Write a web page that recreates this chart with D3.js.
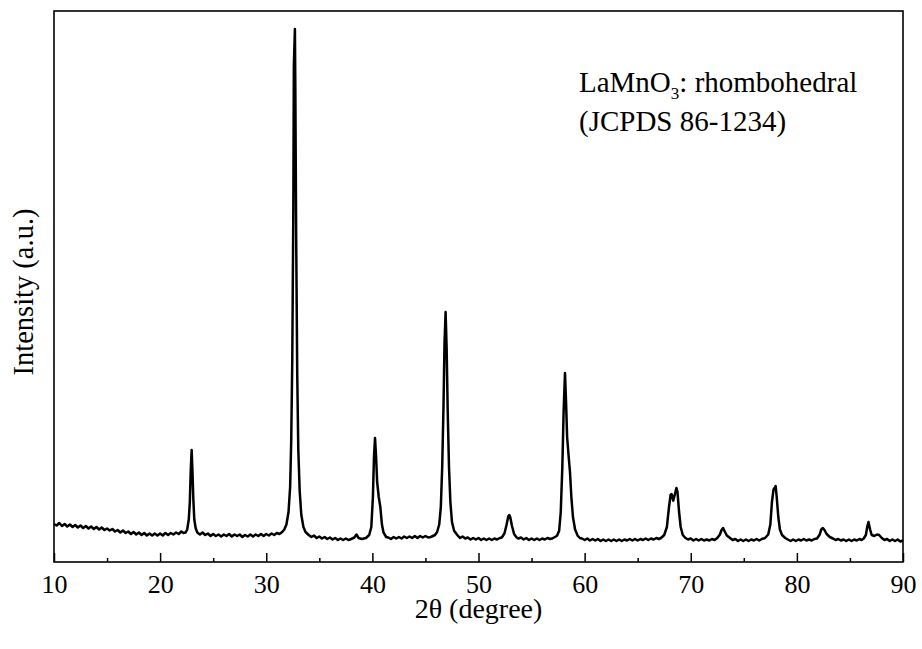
<!DOCTYPE html>
<html>
<head>
<meta charset="utf-8">
<script src="https://cdn.jsdelivr.net/npm/d3@7"></script>
<style>
  html, body { margin: 0; padding: 0; background: #fff; }
  svg { display: block; }
  text { font-family: "Liberation Serif", "Times New Roman", serif; fill: #000; }
</style>
</head>
<body>
<svg id="chart" width="922" height="649"></svg>
<script>
// ---- Data: XRD pattern, [2theta (deg), intensity (a.u.)] ----
const bg10to22 = [
  [10.0,152],[10.25,146],[10.5,156],[10.75,144],[11.0,152],[11.25,142],[11.5,150],[11.75,140],
  [12.0,148],[12.25,138],[12.5,146],[12.75,136],[13.0,144],[13.25,134],[13.5,142],[13.75,132],
  [14.0,140],[14.25,130],[14.5,138],[14.75,128],[15.0,134],[15.25,126],[15.5,132],[15.75,122],
  [16.0,128],[16.25,118],[16.5,126],[16.75,116],[17.0,122],[17.25,112],[17.5,120],[17.75,110],
  [18.0,118],[18.25,108],[18.5,116],[18.75,106],[19.0,114],[19.25,106],[19.5,114],[19.75,106],
  [20.0,114],[20.25,106],[20.5,116],[20.75,108],[21.0,116],[21.25,110],[21.5,118],[21.75,112],
  [22.0,122],[22.2,116]
];
const peak23 = [
  [22.4,118],[22.55,130],[22.7,170],[22.8,240],[22.88,360],[22.97,448],[23.05,360],[23.13,250],
  [23.22,170],[23.35,135],[23.5,118]
];
const bg23to31 = [
  [23.75,110],[24.0,118],[24.25,108],[24.5,114],[24.75,104],[25.0,112],[25.25,104],[25.5,110],
  [25.75,102],[26.0,110],[26.25,104],[26.5,112],[26.75,102],[27.0,110],[27.25,104],[27.5,110],
  [27.75,100],[28.0,108],[28.25,102],[28.5,110],[28.75,102],[29.0,110],[29.25,104],[29.5,112],
  [29.75,104],[30.0,112],[30.25,106],[30.5,114],[30.75,108],[31.0,116],[31.25,112]
];
const peak33 = [
  [31.5,120],[31.7,130],[31.9,150],[32.1,200],[32.25,300],[32.35,480],[32.45,800],[32.55,1400],
  [32.6,1980],[32.63,2030],[32.7,2132],[32.74,1900],[32.82,1300],[32.92,750],[33.02,450],
  [33.15,285],[33.3,190],[33.5,140],[33.7,120]
];
const bg34to38 = [
  [34.0,108],[34.25,100],[34.5,106],[34.75,96],[35.0,102],[35.25,94],[35.5,100],[35.75,92],
  [36.0,98],[36.25,90],[36.5,96],[36.75,88],[37.0,94],[37.25,88],[37.5,94],[37.75,88],[38.0,92]
];
const peak40 = [
  [38.3,98],[38.5,110],[38.7,96],[39.0,92],[39.4,96],[39.7,108],[39.9,140],[40.05,260],
  [40.15,420],[40.25,496],[40.35,420],[40.45,320],[40.6,260],[40.75,220],[40.9,150],
  [41.05,118],[41.3,100]
];
const bg41to45 = [
  [41.5,98],[41.75,92],[42.0,100],[42.25,94],[42.5,100],[42.75,94],[43.0,102],[43.25,96],
  [43.5,102],[43.75,96],[44.0,104],[44.25,96],[44.5,104],[44.75,98],[45.0,104],[45.25,98]
];
const peak47 = [
  [45.5,100],[45.9,108],[46.1,120],[46.3,150],[46.45,220],[46.58,380],[46.7,620],[46.8,880],
  [46.9,1000],[47.0,850],[47.1,600],[47.22,380],[47.35,240],[47.5,160],[47.7,125],[48.0,108]
];
const bg48to52 = [
  [48.25,96],[48.5,102],[48.75,94],[49.0,98],[49.25,90],[49.5,96],[49.75,90],[50.0,96],
  [50.25,88],[50.5,94],[50.75,88],[51.0,94],[51.25,88],[51.5,94],[51.75,90],[52.0,96]
];
const peak53 = [
  [52.2,98],[52.45,115],[52.65,150],[52.8,182],[52.9,188],[53.0,178],[53.15,145],[53.35,112],[53.6,98]
];
const bg53to57 = [
  [53.75,94],[54.0,98],[54.25,90],[54.5,96],[54.75,88],[55.0,94],[55.25,88],[55.5,94],
  [55.75,88],[56.0,94],[56.25,90],[56.5,96],[56.75,92]
];
const peak58 = [
  [57.0,95],[57.4,105],[57.6,125],[57.75,200],[57.9,380],[58.02,600],[58.15,756],[58.25,640],
  [58.35,500],[58.5,420],[58.62,360],[58.75,260],[58.9,180],[59.1,130],[59.35,105],[59.55,96]
];
const bg60to67 = [
  [59.75,94],[60.0,88],[60.25,94],[60.5,86],[60.75,92],[61.0,86],[61.25,92],[61.5,84],
  [61.75,90],[62.0,84],[62.25,90],[62.5,84],[62.75,90],[63.0,84],[63.25,90],[63.5,84],
  [63.75,90],[64.0,86],[64.25,92],[64.5,86],[64.75,92],[65.0,86],[65.25,92],[65.5,88],
  [65.75,94],[66.0,88],[66.25,94],[66.5,90],[66.75,96],[67.0,92]
];
const peak68 = [
  [67.2,96],[67.5,108],[67.75,140],[67.95,220],[68.1,268],[68.2,272],[68.35,245],[68.5,270],
  [68.65,296],[68.75,280],[68.9,200],[69.05,140],[69.25,108],[69.5,96]
];
const bg69to72 = [
  [69.75,90],[70.0,94],[70.25,86],[70.5,92],[70.75,86],[71.0,92],[71.25,86],[71.5,90],
  [71.75,86],[72.0,92],[72.25,88]
];
const peak73 = [
  [72.5,96],[72.75,110],[72.9,128],[73.05,136],[73.2,122],[73.4,106],[73.7,96]
];
const bg74to77 = [
  [73.95,88],[74.2,92],[74.45,84],[74.7,90],[74.95,84],[75.2,90],[75.45,84],[75.7,90],
  [75.95,86],[76.2,92],[76.45,86],[76.7,92]
];
const peak78 = [
  [77.0,96],[77.3,110],[77.5,150],[77.65,240],[77.8,290],[77.9,296],[78.0,304],[78.1,260],
  [78.25,180],[78.4,130],[78.6,108],[78.9,96]
];
const bg79to82 = [
  [79.15,90],[79.4,84],[79.65,90],[79.9,84],[80.15,90],[80.4,86],[80.65,92],[80.9,86],
  [81.15,90],[81.4,86],[81.65,92]
];
const peak82 = [
  [81.9,94],[82.15,110],[82.3,130],[82.45,136],[82.6,128],[82.8,112],[83.1,100],[83.4,94]
];
const bg83to86 = [
  [83.65,88],[83.9,92],[84.15,86],[84.4,90],[84.65,84],[84.9,90],[85.15,84],[85.4,90],
  [85.65,86],[85.9,92],[86.1,88]
];
const peak87 = [
  [86.3,94],[86.5,108],[86.65,145],[86.75,160],[86.9,130],[87.05,108],[87.3,104],[87.55,110],
  [87.75,108],[88.0,96]
];
const bg88to90 = [
  [88.25,88],[88.5,92],[88.75,84],[89.0,90],[89.25,84],[89.5,90],[89.75,82],[90.0,86]
];

const xMajorTicks = [10, 20, 30, 40, 50, 60, 70, 80, 90];
const xMinorTicks = [15, 25, 35, 45, 55, 65, 75, 85];
const xTitle = "2θ (degree)";
const yTitle = "Intensity (a.u.)";
const noteLine1 = ["LaMnO", "3", ": rhombohedral"];
const noteLine2 = "(JCPDS 86-1234)";

const pattern = [].concat(
  bg10to22, peak23, bg23to31, peak33, bg34to38, peak40, bg41to45, peak47,
  bg48to52, peak53, bg53to57, peak58, bg60to67, peak68, bg69to72, peak73,
  bg74to77, peak78, bg79to82, peak82, bg83to86, peak87, bg88to90
).sort((a, b) => a[0] - b[0]);

// ---- Layout ----
const svg = d3.select("#chart");
const M = { left: 54, right: 903, top: 11, bottom: 562 };

const x = d3.scaleLinear().domain([10, 90]).range([M.left, M.right]);
const y = d3.scaleLinear().domain([0, 2200]).range([M.bottom, M.top + 1]);

// data line
const line = d3.line().x(d => x(d[0])).y(d => y(d[1]));
svg.append("path")
  .datum(pattern)
  .attr("fill", "none")
  .attr("stroke", "#000")
  .attr("stroke-width", 2.5)
  .attr("stroke-linejoin", "round")
  .attr("d", line);

// frame
svg.append("rect")
  .attr("x", M.left).attr("y", M.top)
  .attr("width", M.right - M.left).attr("height", M.bottom - M.top)
  .attr("fill", "none").attr("stroke", "#000").attr("stroke-width", 1.6);

// x axis major (inward ticks)
const xAxis = svg.append("g")
  .attr("transform", `translate(0,${M.bottom})`)
  .call(d3.axisBottom(x).tickValues(xMajorTicks).tickSizeInner(-9).tickSizeOuter(0).tickPadding(13)
    .tickFormat(d3.format("d")));
xAxis.select(".domain").remove();
xAxis.selectAll(".tick line").attr("stroke", "#000").attr("stroke-width", 1.5);
xAxis.selectAll(".tick text")
  .style("font-family", '"Liberation Serif", "Times New Roman", serif')
  .style("font-size", "26px")
  .attr("fill", "#000");

// x axis minor
const xMinor = svg.append("g")
  .attr("transform", `translate(0,${M.bottom})`)
  .call(d3.axisBottom(x).tickValues(xMinorTicks).tickSizeInner(-4).tickSizeOuter(0).tickFormat(""));
xMinor.select(".domain").remove();
xMinor.selectAll(".tick line").attr("stroke", "#000").attr("stroke-width", 1.5);

// titles
svg.append("text")
  .attr("x", (M.left + M.right) / 2).attr("y", 618)
  .attr("text-anchor", "middle")
  .style("font-size", "28px")
  .text(xTitle);

svg.append("text")
  .attr("transform", `translate(33,292) rotate(-90)`)
  .attr("text-anchor", "middle")
  .style("font-size", "28.5px")
  .text(yTitle);

// annotation
const note = svg.append("text")
  .attr("x", 579).attr("y", 92)
  .style("font-size", "29px");
note.append("tspan").text(noteLine1[0]);
note.append("tspan").attr("dy", 7).style("font-size", "17px").text(noteLine1[1]);
note.append("tspan").attr("dy", -7).text(noteLine1[2]);

svg.append("text")
  .attr("x", 579).attr("y", 131)
  .style("font-size", "29px")
  .text(noteLine2);
</script>
</body>
</html>
